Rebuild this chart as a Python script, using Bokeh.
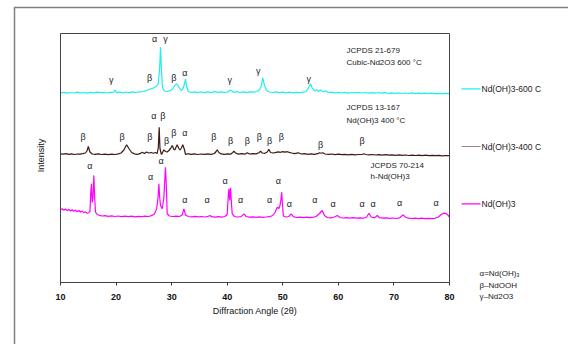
from bokeh.plotting import figure
from bokeh.models import Label, Arrow, BoxAnnotation, FixedTicker, Range1d
from bokeh.embed import file_html
from bokeh.resources import INLINE
import math

# ---------------- data (2theta, intensity in arbitrary units) ----------------
cyan_x = [10.0,10.6,11.2,11.8,12.4,13.0,13.6,14.2,14.8,15.4,16.0,16.6,17.2,17.8,18.4,19.0,19.5,19.8,20.1,20.6,
          21.2,21.8,22.4,23.0,23.6,24.2,24.8,25.4,25.9,26.4,26.9,27.3,27.6,27.85,28.0,28.15,28.35,28.7,29.2,29.7,
          30.2,30.5,30.8,31.0,31.3,31.7,32.0,32.3,32.5,32.7,33.0,33.5,34.1,34.7,35.3,35.9,36.5,37.1,37.7,38.3,
          38.9,39.5,40.1,40.6,41.1,41.7,42.3,42.9,43.5,44.1,44.7,45.3,45.8,46.1,46.4,46.7,47.1,47.6,48.2,48.8,
          49.4,50.0,50.6,51.2,51.8,52.4,53.0,53.6,54.2,54.6,55.0,55.3,55.7,56.1,56.4,56.8,57.3,57.7,58.2,58.8,
          59.4,60.0,60.6,61.2,61.8,62.4,63.0,63.6,64.2,64.8,65.4,66.0,66.6,67.2,67.8,68.4,69.0,69.6,70.2,70.8,
          71.4,72.0,72.6,73.2,73.8,74.4,75.0,75.6,76.2,76.8,77.4,78.0,78.6,79.2,80.0]
cyan_y = [189.6,190.1,189.4,190.0,189.5,190.3,189.7,190.0,189.3,190.2,189.6,190.4,189.8,190.1,189.5,190.2,190.0,192.3,189.9,190.4,
          189.7,190.5,189.9,190.6,190.0,190.7,191.0,191.8,193.0,193.8,195.0,196.5,199.0,215.0,235.3,214.0,195.0,191.5,191.0,191.8,
          193.5,196.5,198.7,197.8,195.5,192.0,193.5,198.0,203.7,196.0,191.0,190.0,190.6,189.8,190.5,189.9,190.6,190.0,190.8,190.1,
          190.7,190.0,190.6,192.6,190.2,190.8,190.0,190.6,189.9,190.7,190.3,191.0,192.5,196.0,204.7,197.0,192.0,190.5,190.0,190.6,
          189.8,190.4,189.7,190.3,189.6,190.2,189.8,190.4,191.0,194.5,198.7,194.5,191.5,192.8,191.0,192.5,190.8,191.8,190.0,190.4,
          189.7,190.2,189.5,190.1,189.4,190.0,189.6,190.2,189.5,190.0,189.3,189.9,189.4,190.0,189.3,189.8,189.2,189.7,189.1,189.6,
          189.0,189.5,189.0,189.6,188.9,189.4,188.8,189.3,188.9,189.4,188.8,189.2,188.7,189.1,188.8]

brown_x = [10.0,10.5,11.0,11.5,12.0,12.5,13.0,13.5,14.0,14.5,14.8,15.0,15.3,15.7,16.2,16.8,17.4,18.0,18.6,19.2,
           19.8,20.4,20.9,21.4,21.9,22.3,22.8,23.3,23.8,24.3,24.7,25.1,25.5,25.9,26.3,26.7,27.1,27.4,27.6,27.76,
           27.9,28.1,28.2,28.4,28.6,28.9,29.2,29.5,29.8,30.1,30.4,30.6,30.8,31.0,31.3,31.5,31.8,32.0,32.3,32.5,
           32.9,33.5,34.1,34.7,35.3,35.9,36.5,37.1,37.7,38.0,38.2,38.5,38.9,39.5,40.1,40.6,41.0,41.2,41.5,42.0,
           42.6,43.2,43.6,44.0,44.6,45.2,45.7,46.0,46.3,46.8,47.2,47.5,47.8,48.3,48.8,49.2,49.6,50.0,50.4,50.8,
           51.2,51.6,52.1,52.8,53.3,53.9,54.5,55.1,55.7,56.3,56.6,56.9,57.2,57.6,58.2,58.8,59.4,60.0,60.6,61.2,
           61.8,62.4,63.0,63.6,64.3,64.6,64.9,65.5,66.1,66.7,67.3,67.9,68.5,69.1,69.7,70.3,70.9,71.5,72.1,72.7,
           73.3,73.9,74.5,75.1,75.7,76.3,76.9,77.5,78.1,78.7,79.3,80.0]
brown_y = [128.7,128.3,128.9,128.2,128.6,128.0,128.5,128.3,128.8,129.5,132.0,136.0,130.5,128.5,128.1,128.6,128.0,128.4,127.9,128.3,
           128.0,128.6,129.5,132.5,137.7,134.0,130.0,128.6,128.2,128.8,130.3,129.0,130.5,129.5,130.0,129.2,130.0,129.0,135.0,155.3,
           134.0,129.0,128.0,130.5,132.7,131.0,130.5,132.0,134.0,137.0,133.0,132.7,135.5,137.7,134.0,132.5,135.0,137.7,133.0,128.0,
           128.8,128.2,128.7,128.0,128.5,128.1,128.6,128.2,129.0,131.0,132.7,130.0,128.6,128.2,128.7,128.3,130.0,131.3,129.5,128.4,
           128.8,128.3,129.7,128.5,128.9,128.6,129.8,131.3,129.5,129.2,130.5,133.3,130.0,129.5,130.2,130.7,130.2,130.9,130.3,130.8,
           130.1,129.5,128.8,129.7,128.5,128.8,128.2,128.6,128.1,128.8,129.7,129.2,129.7,128.5,128.1,128.5,127.9,128.3,127.8,128.2,
           127.7,128.1,127.6,128.0,128.2,128.7,128.0,127.6,128.0,127.5,127.9,127.4,127.8,127.3,127.7,127.2,127.6,127.1,127.5,127.0,
           127.4,127.0,127.3,126.9,127.3,126.8,127.2,126.8,127.1,126.7,127.0,126.8]

mag_x = [10.0,10.3,10.6,10.9,11.2,11.5,11.8,12.1,12.4,12.7,13.0,13.3,13.6,13.9,14.2,14.5,14.8,15.1,15.3,15.45,
         15.58,15.7,15.85,16.0,16.15,16.3,16.6,17.0,17.5,18.0,18.6,19.2,19.8,20.4,21.0,21.6,22.2,22.8,23.4,24.0,
         24.6,25.2,25.8,26.4,26.9,27.3,27.55,27.7,27.85,28.0,28.3,28.6,28.8,28.9,29.05,29.2,29.6,30.2,30.8,31.4,
         31.9,32.2,32.5,33.0,33.6,34.2,34.8,35.4,36.0,36.6,36.9,37.2,37.8,38.4,39.0,39.6,40.0,40.2,40.3,40.45,
         40.6,40.75,40.9,41.3,41.9,42.5,43.0,43.4,44.0,44.6,45.2,45.8,46.4,47.0,47.6,48.2,48.6,49.0,49.3,49.5,
         49.65,49.8,49.95,50.1,50.6,51.1,51.5,51.9,52.5,53.1,53.7,54.3,54.9,55.5,56.0,56.6,57.1,57.5,58.0,58.6,
         59.3,59.8,60.3,60.9,61.5,62.1,62.7,63.3,63.9,64.5,65.1,65.5,65.9,66.5,67.0,67.4,68.0,68.6,69.2,69.8,
         70.4,71.0,71.4,71.7,72.0,72.6,73.2,73.8,74.4,75.0,75.6,76.2,76.8,77.4,78.0,78.5,78.9,79.4,79.7,80.0]
mag_y = [72.7,73.8,72.2,73.5,71.8,73.2,71.5,72.8,71.2,72.4,70.8,72.0,70.5,71.4,70.0,70.6,69.3,69.8,71.0,90.0,
         98.7,80.0,84.0,107.0,85.0,70.3,68.0,67.2,66.5,66.8,66.2,66.6,66.0,66.5,65.9,66.4,65.8,66.3,65.7,66.2,
         65.8,66.3,66.0,66.8,68.5,73.7,85.0,98.7,85.0,77.0,73.7,85.0,105.0,115.3,95.0,68.7,66.5,66.0,66.4,66.0,
         67.5,73.7,67.5,66.0,65.7,66.1,65.6,66.0,65.5,66.2,67.0,65.8,65.4,65.8,65.3,66.0,68.0,88.0,93.7,82.0,
         94.7,80.0,68.7,66.0,65.5,65.9,68.7,66.0,65.3,65.7,65.2,65.6,65.1,65.5,65.8,67.0,70.0,75.3,74.0,77.0,
         82.0,90.3,78.0,66.5,65.5,66.0,68.7,65.8,65.0,65.4,64.9,65.3,64.8,65.3,66.0,69.0,72.0,67.0,65.0,64.7,
         65.5,67.0,65.0,64.5,64.9,64.4,64.8,64.3,64.7,64.3,65.5,69.3,65.5,64.6,67.0,64.8,64.3,64.6,64.1,64.5,
         64.0,64.6,66.5,67.7,65.5,64.3,64.0,64.4,63.9,64.3,63.8,64.2,63.8,64.2,65.5,68.0,69.3,69.0,67.5,65.5]

x_ticks = [10, 20, 30, 40, 50, 60, 70, 80]

# peak labels: (text, 2theta, height)
peak_labels = [
    ("α", 26.92, 244.0), ("γ", 28.90, 244.0), ("γ", 19.12, 202.7), ("β", 26.02, 204.7),
    ("β", 30.39, 204.7), ("α", 32.37, 209.3), ("γ", 40.47, 202.7), ("γ", 45.58, 212.0),
    ("γ", 54.68, 203.7),
    ("α", 26.79, 166.3), ("β", 28.41, 166.3), ("β", 14.08, 146.0), ("β", 21.10, 146.0),
    ("β", 26.07, 146.0), ("β", 29.08, 141.3), ("β", 30.39, 149.7), ("α", 32.37, 149.7),
    ("β", 37.59, 146.0), ("β", 40.59, 141.3), ("β", 43.60, 141.3), ("β", 45.76, 146.0),
    ("β", 47.61, 141.3), ("β", 49.72, 146.0), ("β", 56.79, 137.7), ("β", 64.29, 141.3),
    ("α", 15.27, 116.7), ("α", 28.12, 121.7), ("α", 26.20, 106.0), ("α", 32.37, 83.0),
    ("α", 36.40, 83.0), ("α", 39.64, 102.0), ("α", 42.39, 83.0), ("α", 47.61, 83.0),
    ("α", 49.18, 102.0), ("α", 51.16, 78.7), ("α", 55.76, 83.0), ("α", 59.07, 78.7),
    ("α", 64.29, 78.7), ("α", 66.27, 78.7), ("α", 71.00, 79.3), ("α", 77.61, 79.3),
]
notes = [
    ("JCPDS 21-679", 61.47, 232.0), ("Cubic-Nd2O3  600 °C", 61.47, 219.7),
    ("JCPDS 13-167", 61.47, 175.3), ("Nd(OH)3 400 °C", 61.47, 162.0),
    ("JCPDS 70-214", 65.79, 117.5), ("h-Nd(OH)3", 65.79, 106.0),
]
series_names = ["Nd(OH)3-600 C", "Nd(OH)3-400 C", "Nd(OH)3"]
series_colors = ["#1CEFEF", "#3E1A15", "#FF00FF"]
legend_line_colors = ["#1CEFEF", "#9A8A87", "#FF00FF"]
legend_y = [193.7, 136.0, 78.7]
key_texts = ["α=Nd(OH)₃", "β–NdOOH", "γ–Nd2O3"]
key_y = [9.3, -3.3, -14.0]

FONT = "Liberation Sans"
TXT = "#1a1a24"

W, H = 568, 344
PX = 389.0 / 70.0                 # pixels per degree
X0 = 10 - 60 / PX                 # frame spans whole canvas
Y_TOP = 282.0                     # intensity = 282 - pixel row

p = figure(width=W, height=H, output_backend="svg", toolbar_location=None,
           x_range=Range1d(X0, X0 + W / PX), y_range=Range1d(Y_TOP - H, Y_TOP),
           min_border_left=0, min_border_right=0, min_border_top=0, min_border_bottom=0)
p.background_fill_color = "white"
p.border_fill_color = "white"
p.outline_line_color = None
p.grid.visible = False
p.yaxis.visible = False

ax = p.xaxis[0]
ax.fixed_location = 0
ax.bounds = (10, 80)
ax.ticker = FixedTicker(ticks=x_ticks)
ax.axis_line_color = "#333333"
ax.major_tick_line_color = "#333333"
ax.major_tick_out = 3
ax.major_tick_in = 0
ax.minor_tick_line_color = None
ax.major_label_text_font = FONT
ax.major_label_text_font_size = "9px"
ax.major_label_text_font_style = "bold"
ax.major_label_text_color = "#111111"
ax.major_label_standoff = 8
ax.axis_label = "Diffraction Angle (2θ)"
ax.axis_label_text_font = FONT
ax.axis_label_text_font_size = "9px"
ax.axis_label_text_font_style = "normal"
ax.axis_label_text_color = "#111111"
ax.axis_label_standoff = 3

# outer frame and plot box
p.add_layout(BoxAnnotation(left=10 + (14 - 60) / PX, right=X0 + 2 * W / PX, top=Y_TOP - 7, bottom=Y_TOP - 2 * H,
                           fill_alpha=0, line_color="#808080", line_alpha=1.0, line_width=1.5))
p.add_layout(BoxAnnotation(left=10, right=80, top=249, bottom=0,
                           fill_alpha=0, line_color="#444444", line_alpha=1.0, line_width=1))

for xs, ys, c in zip([cyan_x, brown_x, mag_x], [cyan_y, brown_y, mag_y], series_colors):
    p.line(xs, ys, line_color=c, line_width=1.2)

for t, x, y in peak_labels:
    p.add_layout(Label(x=x, y=y, text=t, text_font=FONT, text_font_size="9px",
                       text_color=TXT, text_align="center", text_baseline="middle"))
for t, x, y in notes:
    p.add_layout(Label(x=x, y=y, text=t, text_font=FONT, text_font_size="8px",
                       text_color=TXT, text_align="left", text_baseline="middle"))

# right-side legend
for name, lc, ly in zip(series_names, legend_line_colors, legend_y):
    p.add_layout(Arrow(x_start=82.16, y_start=ly, x_end=85.58, y_end=ly, start=None, end=None,
                       line_color=lc, line_width=1.2))
    p.add_layout(Label(x=85.76, y=ly, text=name, text_font=FONT, text_font_size="8.5px",
                       text_color=TXT, text_align="left", text_baseline="middle"))
for t, ky in zip(key_texts, key_y):
    p.add_layout(Label(x=85.4, y=ky, text=t, text_font=FONT, text_font_size="8px",
                       text_color=TXT, text_align="left", text_baseline="middle"))

p.add_layout(Label(x=10 + (40.5 - 60) / PX, y=127.0, text="Intensity", angle=math.pi / 2, text_font=FONT,
                   text_font_size="9px", text_color="#111111", text_align="center",
                   text_baseline="middle"))

open("out.html", "w").write(file_html(p, INLINE))
